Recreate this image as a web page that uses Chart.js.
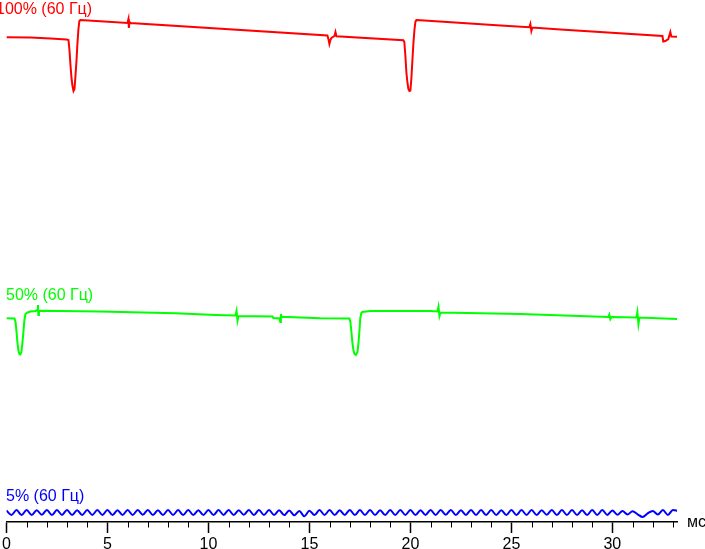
<!DOCTYPE html>
<html>
<head>
<meta charset="utf-8">
<script src="https://cdn.jsdelivr.net/npm/chart.js@4/dist/chart.umd.min.js"></script>
<style>
  html, body { margin: 0; padding: 0; background: #fff; }
  #wrap { width: 705px; height: 549px; position: relative; }
</style>
</head>
<body>
<div id="wrap"><canvas id="chart"></canvas></div>
<script>
// time axis, ms
const xMaxMs = 33.2;
const majorStepMs = 5;
const minorStepMs = 1;
const unitLabel = 'мс';

const seriesNames = ['100% (60 Гц)', '50% (60 Гц)', '5% (60 Гц)'];
const seriesColors = ['#ff0000', '#00ff00', '#0000ff'];

// 100% brightness trace
const redMs = [0, 1.19, 2.18, 2.97, 3.07, 3.12, 3.17, 3.22, 3.27, 3.32, 3.37, 3.42, 3.47, 3.51, 3.56, 3.61, 3.66,
  4.65, 5.99, 6.04, 6.06, 6.09, 6.14, 15.89, 15.94, 15.99, 16.04, 16.09, 16.24, 16.29, 16.34,
  19.65, 19.70, 19.75, 19.80, 19.85, 19.90, 19.95, 20.00, 20.05, 20.10, 20.15, 20.20, 20.25, 20.30, 20.50,
  24.46, 25.89, 25.94, 25.99, 26.04, 27.43, 32.48, 32.52, 32.62, 32.77, 32.87, 32.92, 33.2];
const redLevel = [82.7, 82.5, 81.5, 80.5, 80, 70, 55, 42, 34, 29, 31, 45, 60, 75, 90, 99, 100,
  98.8, 97.1, 101, 92, 98, 97, 84.6, 81, 76, 80, 82, 84, 88, 83.8,
  79.8, 78, 65, 48, 38, 31, 29, 29.5, 42, 60, 77, 90, 98.3, 100, 99.8,
  94.5, 92.7, 96, 89, 92.5, 90.6, 84, 78.5, 79, 81, 88, 83.5, 83.3];

// 50% brightness trace
const greenMs = [0, 0.40, 0.45, 0.50, 0.54, 0.59, 0.64, 0.69, 0.74, 0.79, 0.84, 0.89, 0.94, 1.04, 1.19, 1.44,
  1.53, 1.56, 1.58, 1.61, 1.68, 4.65, 8.37, 10.35, 11.34, 11.39, 11.44, 11.49, 13.17, 13.22, 13.51, 13.56,
  13.59, 13.61, 15.54, 16.98, 17.03, 17.08, 17.13, 17.18, 17.23, 17.30, 17.38, 17.43, 17.48, 17.52, 17.57,
  17.62, 18.02, 20.99, 21.34, 21.39, 21.44, 21.49, 25.45, 29.80, 29.85, 29.90, 29.95, 31.19, 31.24, 31.29,
  31.34, 33.2];
const greenLevel = [41.7, 41.5, 38, 28, 18, 10, 6, 5.5, 8, 17, 28, 40, 46, 47.5, 48.5, 49,
  50, 55, 45, 49, 49.3, 48.5, 46.7, 45, 44.5, 49, 39.3, 44, 43.6, 41.7, 41.7, 38,
  46, 43.3, 41.7, 41.5, 38, 28, 17, 10, 6, 5, 8, 17, 30, 42, 47,
  48, 49, 49, 48.5, 53.3, 44, 47.5, 46, 43, 45.5, 41, 43, 42.5, 48, 36,
  42.5, 41];

// 5% brightness trace, one sample every 0.25 ms
const blueStepMs = 0.25;
const blueLevel = [
  7.0, 2.6, 7.4, 2.4, 7.6, 2.5, 7.3, 2.7, 7.5, 2.4, 7.4, 2.6, 7.6, 2.5, 7.3, 2.4, 7.5, 2.6, 7.4, 2.5,
  7.6, 2.4, 7.3, 2.6, 7.5, 2.5, 7.4, 2.7, 7.6, 2.4, 7.3, 2.5, 7.5, 2.6, 7.4, 2.4, 7.6, 2.5, 7.3, 2.6,
  7.5, 2.4, 7.4, 2.6, 7.6, 2.5, 7.3, 2.7, 7.5, 2.4, 7.4, 2.6, 7.5, 2.5, 7.3, 2.4, 7.0, 2.2, 6.6, 1.2,
  6.8, 2.4, 7.4, 2.6, 7.5, 2.5, 7.3, 2.6, 7.6, 2.4, 7.4, 2.5, 7.5, 2.6, 7.3, 2.4, 7.6, 2.5, 7.4, 2.6,
  7.5, 2.4, 7.3, 2.6, 7.6, 2.5, 7.4, 2.7, 7.5, 2.4, 7.3, 2.6, 7.6, 2.5, 7.4, 2.4, 7.5, 2.6, 7.3, 2.5,
  7.6, 2.4, 7.4, 2.6, 7.5, 2.5, 7.3, 2.7, 7.6, 2.4, 7.4, 2.5, 7.5, 2.6, 7.3, 2.4, 7.6, 2.5, 7.4, 2.6,
  7.0, 2.8, 6.6, 3.0, 6.2, 3.2, 0.4, 4.2, 6.6, 3.0, 7.4, 2.6, 7.6, 6.5];

const FONT = '"Liberation Sans", Arial, sans-serif';

const toPoints = (xs, ys) => xs.map((x, i) => ({ x, y: ys[i] }));

const overlay = {
  id: 'overlay',
  afterDraw(chart) {
    const { ctx, chartArea } = chart;
    const x = chart.scales.x;
    ctx.save();
    // minor ticks
    ctx.strokeStyle = '#000';
    ctx.lineWidth = 1;
    for (let ms = minorStepMs; ms <= xMaxMs; ms += minorStepMs) {
      if (ms % majorStepMs === 0) continue;
      const px = Math.round(x.getPixelForValue(ms)) + 0.5;
      ctx.beginPath();
      ctx.moveTo(px, chartArea.bottom);
      ctx.lineTo(px, chartArea.bottom + 5.5);
      ctx.stroke();
    }
    // trace names
    ctx.font = '16px ' + FONT;
    ctx.textBaseline = 'alphabetic';
    ctx.textAlign = 'left';
    const namePos = [[-4, 14], [6, 299.5], [6, 500.5]];
    seriesNames.forEach((name, i) => {
      ctx.fillStyle = seriesColors[i];
      ctx.fillText(name, namePos[i][0], namePos[i][1]);
    });
    // unit
    ctx.fillStyle = '#000';
    ctx.fillText(unitLabel, x.right + 10, chartArea.bottom + 5);
    ctx.restore();
  }
};

new Chart(document.getElementById('chart'), {
  type: 'line',
  data: {
    datasets: [
      {
        label: seriesNames[0],
        data: toPoints(redMs, redLevel),
        borderColor: seriesColors[0],
        borderWidth: 2,
        pointRadius: 0,
        yAxisID: 'y100'
      },
      {
        label: seriesNames[1],
        data: toPoints(greenMs, greenLevel),
        borderColor: seriesColors[1],
        borderWidth: 2,
        pointRadius: 0,
        yAxisID: 'y50'
      },
      {
        label: seriesNames[2],
        data: blueLevel.map((y, i) => ({ x: i * blueStepMs, y })),
        borderColor: seriesColors[2],
        borderWidth: 2,
        pointRadius: 0,
        cubicInterpolationMode: 'monotone',
        yAxisID: 'y5'
      }
    ]
  },
  options: {
    responsive: true,
    maintainAspectRatio: false,
    animation: false,
    events: [],
    layout: { padding: { left: 6, right: 28, top: 0, bottom: 0 } },
    plugins: { legend: { display: false }, tooltip: { enabled: false } },
    scales: {
      x: {
        type: 'linear',
        min: 0,
        max: xMaxMs,
        afterFit(scale) { scale.height = 27; },
        border: { display: true, color: '#000', width: 1.5 },
        grid: { display: true, drawOnChartArea: false, drawTicks: true, tickLength: 11, tickColor: '#000', tickWidth: 1.5 },
        ticks: {
          stepSize: majorStepMs,
          includeBounds: false,
          maxRotation: 0,
          autoSkip: false,
          padding: 2,
          color: '#000',
          font: { family: FONT, size: 16 }
        }
      },
      y100: { display: false, min: -402, max: 120 },
      y50: { display: false, min: -162, max: 360 },
      y5: { display: false, min: -4.5, max: 517.5 }
    }
  },
  plugins: [overlay]
});
</script>
</body>
</html>
